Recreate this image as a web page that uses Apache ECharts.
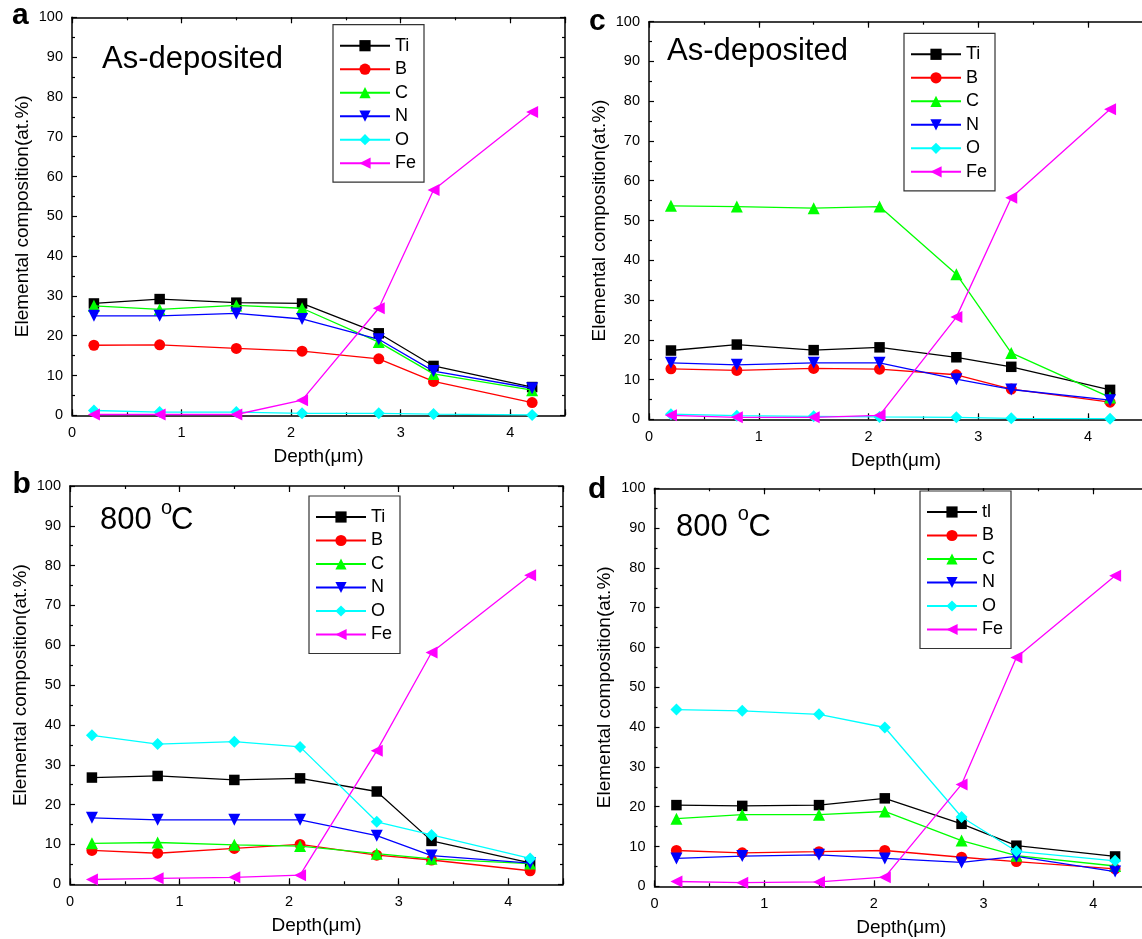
<!DOCTYPE html>
<html>
<head>
<meta charset="utf-8">
<script src="https://cdn.jsdelivr.net/npm/echarts@6/dist/echarts.min.js"></script>
<style>
  html, body { margin: 0; padding: 0; background: #fff; }
  #chart { width: 1142px; height: 939px; }
</style>
</head>
<body>
<div id="chart"></div>
<script>
// Sputter depth (µm) at which each composition was measured
const depth = [0.2, 0.8, 1.5, 2.1, 2.8, 3.3, 4.2];

// Panel a — as-deposited
const aTi = [28.1, 29.2, 28.3, 28.1, 20.6, 12.4, 7.1];
const aB  = [17.6, 17.7, 16.8, 16.1, 14.2, 8.5, 3.2];
const aC  = [27.5, 26.6, 27.6, 26.9, 18.4, 10.4, 6.3];
const aN  = [25.0, 25.0, 25.6, 24.2, 19.1, 11.1, 6.8];
const aO  = [1.2, 0.8, 0.8, 0.5, 0.5, 0.3, 0.1];
const aFe = [0.2, 0.2, 0.2, 3.8, 26.9, 56.6, 76.2];

// Panel b — 800 °C
const bTi = [26.8, 27.2, 26.2, 26.6, 23.3, 10.9, 5.4];
const bB  = [8.5, 7.8, 9.0, 10.0, 7.3, 6.1, 3.4];
const bC  = [10.3, 10.5, 9.9, 9.6, 7.7, 6.4, 5.2];
const bN  = [16.7, 16.2, 16.2, 16.2, 12.2, 7.2, 5.3];
const bO  = [37.4, 35.2, 35.8, 34.5, 15.7, 12.4, 6.5];
const bFe = [1.2, 1.5, 1.75, 2.3, 33.5, 58.2, 77.6];

// Panel c — as-deposited
const cTi = [17.3, 18.8, 17.4, 18.1, 15.6, 13.2, 7.4];
const cB  = [12.7, 12.3, 12.8, 12.6, 11.2, 7.6, 4.3];
const cC  = [53.7, 53.5, 53.1, 53.5, 36.5, 16.7, 5.5];
const cN  = [14.2, 13.7, 14.2, 14.2, 10.1, 7.5, 4.8];
const cO  = [1.3, 0.9, 0.75, 0.6, 0.5, 0.25, 0.15];
const cFe = [1.0, 0.5, 0.5, 1.0, 25.7, 55.7, 78.0];

// Panel d — 800 °C
const dTi = [20.4, 20.2, 20.4, 22.1, 15.7, 10.2, 7.5];
const dB  = [9.0, 8.4, 8.7, 9.0, 7.3, 6.2, 4.4];
const dC  = [17.0, 18.0, 18.0, 18.8, 11.5, 7.7, 5.1];
const dN  = [7.0, 7.6, 7.9, 7.0, 6.0, 7.5, 3.7];
const dO  = [44.4, 44.1, 43.2, 39.9, 17.4, 8.8, 6.4];
const dFe = [1.2, 0.9, 1.1, 2.3, 25.6, 57.5, 78.0];

const elementsStd = ['Ti', 'B', 'C', 'N', 'O', 'Fe'];
const elementsD   = ['tl', 'B', 'C', 'N', 'O', 'Fe'];

const xTicks = [0, 1, 2, 3, 4];
const yLabelTitle = 'Elemental composition(at.%)';
const xLabelTitle = 'Depth(\u03bcm)';

// Marker and colour per element (same order as element lists)
const styles = [
  { color: '#000000', symbol: 'rect', size: 10.5 },
  { color: '#ff0000', symbol: 'circle', size: 11 },
  { color: '#00ff00', symbol: 'triangle', size: 12 },
  { color: '#0000ff', symbol: 'path://M0,0L10,0L5,9Z', size: 12 },
  { color: '#00ffff', symbol: 'diamond', size: 12 },
  { color: '#ff00ff', symbol: 'path://M9,0L9,10L0,5Z', size: 12 }
];

const FONT = 'Liberation Sans, Arial, sans-serif';

// Panel layout
const panels = [
  { letter: 'a', names: elementsStd, values: [aTi, aB, aC, aN, aO, aFe],
    grid: { left: 72, top: 17.3, width: 493, height: 398 }, rightAxis: true,
    legend: { left: 333, top: 24.7 }, letterPos: [12, 15.6] },
  { letter: 'c', names: elementsStd, values: [cTi, cB, cC, cN, cO, cFe],
    grid: { left: 649, top: 21.7, width: 494, height: 397.6 }, rightAxis: false,
    legend: { left: 904, top: 33.3 }, letterPos: [589, 21.3] },
  { letter: 'b', names: elementsStd, values: [bTi, bB, bC, bN, bO, bFe],
    grid: { left: 70, top: 486, width: 493, height: 398.3 }, rightAxis: true,
    legend: { left: 309, top: 496 }, letterPos: [12.5, 484.6] },
  { letter: 'd', names: elementsD, values: [dTi, dB, dC, dN, dO, dFe],
    grid: { left: 654.5, top: 488.3, width: 493.5, height: 398 }, rightAxis: false,
    legend: { left: 920, top: 491 }, letterPos: [588, 489.6] }
];

const axisLine = { show: true, onZero: false, lineStyle: { color: '#000', width: 1.5 } };
const tickStyle = { color: '#000', width: 1.2 };
const grids = [], xAxes = [], yAxes = [], series = [], legends = [];

panels.forEach(p => {
  const g = grids.length;
  // main grid carries the data, labels and major ticks
  grids.push(Object.assign({ containLabel: false, outerBoundsMode: 'none', show: false }, p.grid));
  // overlay grid only draws the half-step minor ticks along x
  grids.push(Object.assign({ containLabel: false, outerBoundsMode: 'none', show: false }, p.grid));

  const xb = xAxes.length;
  xAxes.push({
    gridIndex: g, type: 'value', position: 'bottom', min: 0, max: 4.5, interval: 1,
    name: xLabelTitle, nameLocation: 'middle', nameGap: 32,
    nameTextStyle: { fontSize: 19, color: '#000', fontFamily: FONT },
    axisLine, axisTick: { show: true, inside: true, length: 6, lineStyle: tickStyle },
    axisLabel: { show: true, margin: 10, color: '#000', fontSize: 14.5, fontFamily: FONT,
      formatter: v => (xTicks.indexOf(v) >= 0 ? String(v) : '') },
    splitLine: { show: false }
  });
  xAxes.push({
    gridIndex: g, type: 'value', position: 'top', min: 0, max: 4.5, interval: 1,
    axisLine, axisTick: { show: true, inside: true, length: 6, lineStyle: tickStyle },
    axisLabel: { show: false }, splitLine: { show: false }
  });
  ['bottom', 'top'].forEach(pos => xAxes.push({
    gridIndex: g + 1, type: 'value', position: pos, min: 0, max: 4.5, interval: 0.5,
    axisLine: { show: false }, axisTick: { show: true, inside: true, length: 3, lineStyle: tickStyle },
    axisLabel: { show: false }, splitLine: { show: false }
  }));

  const yl = yAxes.length;
  yAxes.push({
    gridIndex: g, type: 'value', position: 'left', min: 0, max: 100, interval: 10,
    name: yLabelTitle, nameLocation: 'middle', nameGap: 40,
    nameTextStyle: { fontSize: 19, color: '#000', fontFamily: FONT },
    axisLine, axisTick: { show: true, inside: true, length: 5, lineStyle: tickStyle },
    minorTick: { show: true, splitNumber: 2, length: 3, lineStyle: tickStyle },
    axisLabel: { show: true, margin: 9, color: '#000', fontSize: 14.5, fontFamily: FONT },
    splitLine: { show: false }
  });
  yAxes.push({
    gridIndex: g, type: 'value', position: 'right', min: 0, max: 100, interval: 10,
    show: p.rightAxis,
    axisLine, axisTick: { show: true, inside: true, length: 5, lineStyle: tickStyle },
    minorTick: { show: true, splitNumber: 2, length: 3, lineStyle: tickStyle },
    axisLabel: { show: false }, splitLine: { show: false }
  });
  yAxes.push({ gridIndex: g + 1, type: 'value', min: 0, max: 100, show: false });

  p.names.forEach((name, k) => {
    const st = styles[k];
    series.push({
      type: 'line', name, xAxisIndex: xb, yAxisIndex: yl,
      data: depth.map((d, j) => [d, p.values[k][j]]),
      symbol: st.symbol, symbolSize: st.size, showAllSymbol: true,
      itemStyle: { color: st.color, borderWidth: 0 },
      lineStyle: { color: st.color, width: 1.3 },
      emphasis: { disabled: true }, animation: false, z: 2 + k
    });
  });

  legends.push({
    data: p.names, orient: 'vertical', left: p.legend.left, top: p.legend.top,
    itemWidth: 50, itemHeight: 14, itemGap: 5.5, padding: [12, 8, 10, 6],
    borderColor: '#333', borderWidth: 1.2, backgroundColor: '#fff',
    selectedMode: false,
    textStyle: { fontSize: 18, color: '#000', fontFamily: FONT }
  });
});

// Panel letters and condition annotations
const graphics = [];
panels.forEach(p => graphics.push({
  type: 'text', x: p.letterPos[0], y: p.letterPos[1], z: 100,
  style: { text: p.letter, font: 'bold 30px ' + FONT, fill: '#000', align: 'left', verticalAlign: 'middle' }
}));
function addText(text, x, y, size) {
  graphics.push({ type: 'text', x, y, z: 100,
    style: { text, font: size + 'px ' + FONT, fill: '#000', align: 'left', verticalAlign: 'middle' } });
}
addText('As-deposited', 102, 59.2, 31);
addText('As-deposited', 667, 51.5, 31);
addText('800', 100, 520.5, 31);
addText('o', 161, 508.2, 20);
addText('C', 171, 520.5, 31);
addText('800', 676, 527, 31);
addText('o', 737.7, 514.4, 20);
addText('C', 748.5, 527, 31);

const chart = echarts.init(document.getElementById('chart'), null, { renderer: 'canvas' });
chart.setOption({
  animation: false,
  backgroundColor: '#fff',
  grid: grids, xAxis: xAxes, yAxis: yAxes,
  legend: legends, series, graphic: graphics
});
</script>
</body>
</html>
